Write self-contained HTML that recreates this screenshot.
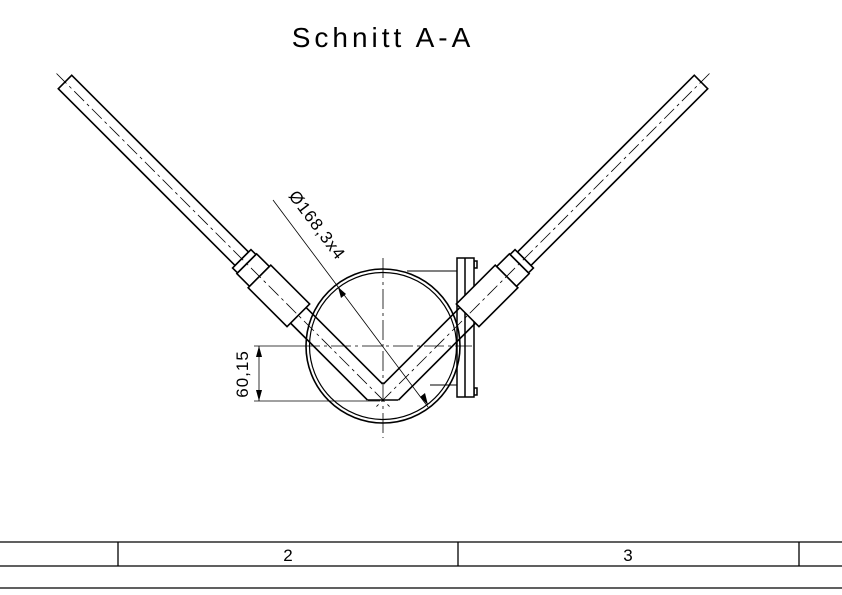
<!DOCTYPE html>
<html><head><style>
html,body{margin:0;padding:0;background:#fff;}
svg{display:block;}
text{font-family:"Liberation Sans",sans-serif;fill:#000;}
</style></head><body>
<svg width="842" height="595" viewBox="0 0 842 595" xmlns="http://www.w3.org/2000/svg">
<text x="383" y="47" font-size="28" text-anchor="middle" letter-spacing="4" font-weight="normal">Schnitt A-A</text>

<!-- plate bracket -->
<g stroke="#000" stroke-width="1.5" fill="#fff">
<line x1="407" y1="271" x2="457" y2="271" stroke-width="1"/>
<line x1="430" y1="385" x2="457" y2="385" stroke-width="1"/>
<rect x="474" y="261" width="3" height="7"/>
<rect x="474" y="388" width="3" height="7"/>
<rect x="457" y="258" width="17" height="139"/>
<line x1="465" y1="258" x2="465" y2="397"/>
</g>

<!-- circle -->
<circle cx="383" cy="346" r="77" fill="none" stroke="#000" stroke-width="1.6"/>
<circle cx="383" cy="346" r="73.5" fill="none" stroke="#000" stroke-width="1.2"/>

<!-- arms -->
<defs>
<g id="arm">
 <g transform="translate(65,82) rotate(45)" stroke="#000" fill="#fff" stroke-width="1.6">
  <rect x="0" y="-9.5" width="250" height="19"/>
  <rect x="250" y="-13" width="7" height="26"/>
  <rect x="257" y="-14" width="18" height="28"/>
  <rect x="275" y="-16" width="55" height="32"/>
  <line x1="330" y1="-11" x2="438" y2="-11"/>
  <line x1="330" y1="11" x2="439" y2="11"/>
  <line x1="-12" y1="0" x2="460" y2="0" stroke-width="0.8" stroke-dasharray="14,4,3,4"/>
 </g>
</g>
</defs>
<use href="#arm"/>
<g transform="translate(766,0) scale(-1,1)"><use href="#arm"/></g>
<line x1="368" y1="400" x2="398" y2="400" stroke="#000" stroke-width="1.6"/>

<!-- center lines -->
<g stroke="#000" stroke-width="0.8" stroke-dasharray="20,4,3,4" fill="none">
<line x1="383" y1="258" x2="383" y2="438"/>
<line x1="300" y1="346" x2="472" y2="346"/>
</g>
<line x1="254" y1="346" x2="300" y2="346" stroke="#000" stroke-width="0.8"/>
<line x1="254" y1="401" x2="380" y2="401" stroke="#000" stroke-width="0.8"/>

<!-- 60,15 dim -->
<line x1="259" y1="346" x2="259" y2="401" stroke="#000" stroke-width="0.8"/>
<polygon points="259,346 256,357 262,357" fill="#000"/>
<polygon points="259,401 256,390 262,390" fill="#000"/>
<text transform="translate(248,374) rotate(-90)" font-size="17" letter-spacing="1" text-anchor="middle">60,15</text>

<!-- diameter dim -->
<line x1="273" y1="200" x2="428" y2="407" stroke="#000" stroke-width="0.8"/>
<polygon points="338,287 341,298 346,294" fill="#000"/>
<polygon points="428,405 420,397 425,393" fill="#000"/>
<text transform="translate(288,196) rotate(53)" font-size="17" letter-spacing="1">Ø168,3x4</text>

<!-- table -->
<g stroke="#000" stroke-width="1.3">
<line x1="0" y1="542" x2="842" y2="542"/>
<line x1="0" y1="566" x2="842" y2="566"/>
<line x1="0" y1="588" x2="842" y2="588"/>
<line x1="118" y1="542" x2="118" y2="566"/>
<line x1="458" y1="542" x2="458" y2="566"/>
<line x1="799" y1="542" x2="799" y2="566"/>
</g>
<text x="288" y="561" font-size="17" text-anchor="middle">2</text>
<text x="628" y="561" font-size="17" text-anchor="middle">3</text>
</svg>
</body></html>
